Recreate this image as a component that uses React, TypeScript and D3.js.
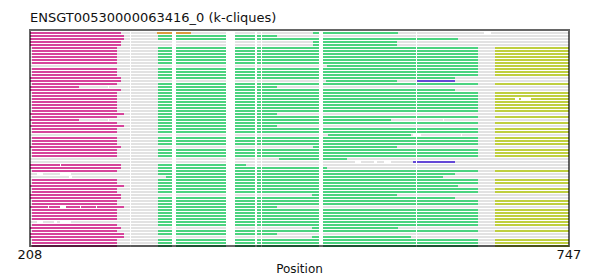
import React from "react";
import * as d3 from "d3";

const TITLE = "ENSGT00530000063416_0 (k-cliques)";
const X_LABEL = "Position";
const X_DOMAIN: [number, number] = [208, 747];
const X_TICKS = [208, 747];
const N_ROWS = 72;

// rows that carry the common full pattern (magenta / green / yellow)
const fullRows = [5, 6, 7, 8, 9, 10, 12, 13, 14, 17, 20, 21, 22, 23, 24, 25, 26, 28, 30, 32, 33, 35, 36, 37, 39, 40, 41, 46, 49, 50, 52, 53, 56, 57, 59, 60, 61, 62, 64, 66, 69, 70, 71];
const fullPattern: [string, number, number][] = [
  ["magenta", 210, 295],
  ["green", 336, 656],
  ["yellow", 673, 747],
];

// [row, start, end]
const magentaSegs: [number, number, number][] = [
  [0, 208, 299], [1, 208, 302], [2, 208, 302], [3, 208, 299], [4, 208, 299],
  [15, 208, 299], [16, 208, 299], [18, 208, 257], [19, 208, 299], [27, 208, 302],
  [29, 208, 257], [31, 208, 302], [38, 208, 299], [44, 208, 299], [45, 208, 299],
  [51, 208, 302], [54, 208, 299], [55, 208, 299], [58, 208, 302], [65, 208, 299],
  [67, 208, 302], [68, 208, 302],
];
const greenSegs: [number, number, number][] = [
  [0, 491, 576], [1, 336, 455], [2, 336, 636], [3, 491, 575], [4, 491, 575],
  [11, 505, 656], [15, 336, 633], [16, 504, 575], [18, 336, 455], [19, 336, 633],
  [27, 336, 455], [29, 336, 569], [31, 336, 455], [34, 506, 589], [38, 491, 575],
  [42, 457, 525], [44, 336, 424], [45, 336, 505], [47, 336, 633], [48, 344, 621],
  [51, 336, 636], [54, 490, 575], [55, 336, 633], [58, 336, 455], [63, 336, 656],
  [65, 490, 576], [67, 336, 455], [68, 490, 589],
];
const yellowSegs: [number, number, number][] = [[11, 673, 747], [63, 673, 747]];
const orangeSegs: [number, number, number][] = [[0, 335, 350], [0, 354, 369]];
const blueSegs: [number, number, number][] = [[16, 594, 633], [43, 591, 633]];

// alignment gaps shared by all rows
const gapColumns: [number, number][] = [
  [308, 309], [350, 354], [404, 413], [433, 435], [439, 440], [497, 501], [594, 595],
];
// extra gaps in single rows
const rowGaps: [number, number, number][] = [
  [0, 662, 669], [18, 286, 287], [22, 693, 697], [22, 699, 709], [29, 286, 287],
  [29, 621, 622], [34, 591, 599], [34, 639, 640], [43, 533, 539], [43, 552, 555],
  [43, 562, 569], [44, 238, 239], [47, 215, 221], [47, 238, 249], [48, 247, 250],
  [58, 226, 227], [58, 238, 244], [58, 258, 259], [58, 274, 275], [63, 215, 221],
  [63, 232, 235], [63, 238, 249],
];

const COLORS: Record<string, string> = {
  magenta: "#d6449b",
  green: "#4bd37f",
  yellow: "#bfcf3f",
  orange: "#d99b3f",
  blue: "#6448d6",
  gray: "#e2e2e2",
};

export default function App() {
  const W = 599, H = 276;
  const left = 30, right = 569, top = 30, bottom = 246;
  const x = d3.scaleLinear().domain(X_DOMAIN).range([left, right]);
  const rows = d3.range(N_ROWS);
  const y = d3.scaleBand<number>().domain(rows).range([top + 1, bottom + 1]);
  const barH = 2;
  const barOff = 1;

  const segs: { row: number; s: number; e: number; color: string }[] = [];
  fullRows.forEach((r) =>
    fullPattern.forEach(([c, s, e]) => segs.push({ row: r, s, e, color: COLORS[c] }))
  );
  const add = (arr: [number, number, number][], c: string) =>
    arr.forEach(([r, s, e]) => segs.push({ row: r, s, e, color: COLORS[c] }));
  add(magentaSegs, "magenta");
  add(greenSegs, "green");
  add(yellowSegs, "yellow");
  add(orangeSegs, "orange");
  add(blueSegs, "blue");

  const gaps: { row: number; s: number; e: number }[] = [];
  rows.forEach((r) => gapColumns.forEach(([s, e]) => gaps.push({ row: r, s, e })));
  rowGaps.forEach(([r, s, e]) => gaps.push({ row: r, s, e }));

  return (
    <svg
      width={W}
      height={H}
      style={{ position: "absolute", left: 0, top: 0, background: "#fff" }}
      fontFamily="DejaVu Sans"
    >
      <text x={left} y={22} fontSize={13} fill="#111">
        {TITLE}
      </text>
      <g shapeRendering="crispEdges">
        {rows.map((r) => (
          <rect
            key={"bg" + r}
            x={x(X_DOMAIN[0])}
            y={(y(r) as number) + barOff}
            width={x(X_DOMAIN[1]) - x(X_DOMAIN[0])}
            height={barH}
            fill={COLORS.gray}
          />
        ))}
        {segs.map((d, i) => (
          <rect
            key={"s" + i}
            x={x(d.s)}
            y={(y(d.row) as number) + barOff}
            width={x(d.e) - x(d.s)}
            height={barH}
            fill={d.color}
          />
        ))}
        {gaps.map((d, i) => (
          <rect
            key={"g" + i}
            x={x(d.s)}
            y={(y(d.row) as number) + barOff}
            width={x(d.e) - x(d.s)}
            height={barH}
            fill="#fff"
          />
        ))}
        <rect
          x={left}
          y={top}
          width={right - left}
          height={bottom - top}
          fill="none"
          stroke="rgba(0,0,0,0.6)"
          strokeWidth={2}
        />
      </g>
      {X_TICKS.map((t) => (
        <text key={t} x={x(t)} y={259} fontSize={13} textAnchor="middle" fill="#111">
          {t}
        </text>
      ))}
      <text x={(left + right) / 2} y={273} fontSize={12} textAnchor="middle" fill="#111">
        {X_LABEL}
      </text>
    </svg>
  );
}
